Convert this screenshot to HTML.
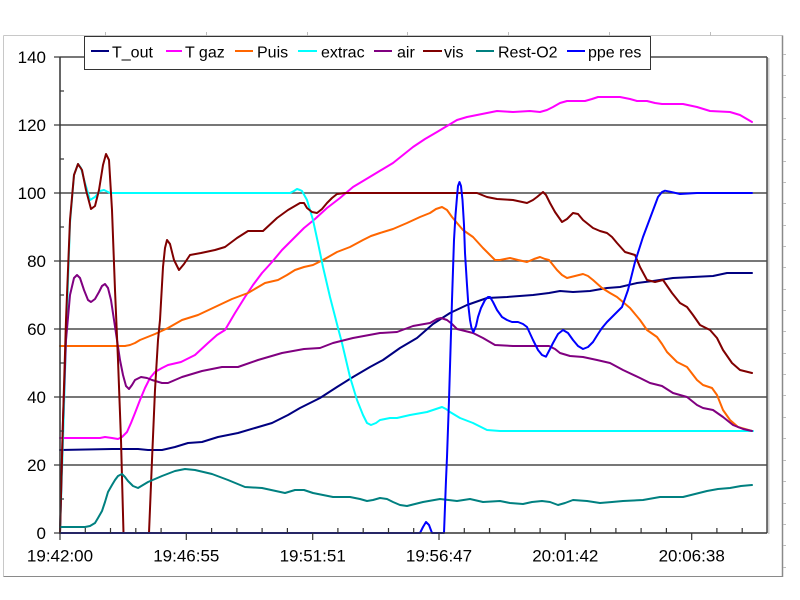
<!DOCTYPE html>
<html>
<head>
<meta charset="utf-8">
<style>
  html,body{margin:0;padding:0;background:#fff;}
  svg{display:block;}
  text{font-family:"Liberation Sans",Arial,sans-serif;fill:#000;}
</style>
</head>
<body>
<svg width="800" height="600" viewBox="0 0 800 600" xmlns="http://www.w3.org/2000/svg">
  <rect x="0" y="0" width="800" height="600" fill="#fff"/>
  <!-- outer frame -->
  <line x1="3.5" y1="35.5" x2="782.5" y2="35.5" stroke="#c8c8c8" stroke-width="1"/>
  <line x1="3.5" y1="35.5" x2="3.5" y2="576.5" stroke="#c8c8c8" stroke-width="1"/>
  <line x1="3.5" y1="576.5" x2="783" y2="576.5" stroke="#8a8a8a" stroke-width="1"/>
  <line x1="782.5" y1="35.5" x2="782.5" y2="577" stroke="#8a8a8a" stroke-width="1.5"/>
  <g stroke="#bdbdbd" stroke-width="1">
    <line x1="105.5" y1="32" x2="105.5" y2="36"/>
    <line x1="206.5" y1="32" x2="206.5" y2="36"/>
    <line x1="307.5" y1="32" x2="307.5" y2="36"/>
    <line x1="407.5" y1="32" x2="407.5" y2="36"/>
    <line x1="508.5" y1="32" x2="508.5" y2="36"/>
    <line x1="609.5" y1="32" x2="609.5" y2="36"/>
    <line x1="710.5" y1="32" x2="710.5" y2="36"/>
    <line x1="783" y1="54.5" x2="786" y2="54.5"/>
    <line x1="783" y1="75.5" x2="786" y2="75.5"/>
    <line x1="783" y1="97.5" x2="786" y2="97.5"/>
    <line x1="783" y1="118.5" x2="786" y2="118.5"/>
    <line x1="783" y1="139.5" x2="786" y2="139.5"/>
    <line x1="783" y1="161.5" x2="786" y2="161.5"/>
    <line x1="783" y1="182.5" x2="786" y2="182.5"/>
    <line x1="783" y1="203.5" x2="786" y2="203.5"/>
    <line x1="783" y1="225.5" x2="786" y2="225.5"/>
    <line x1="783" y1="246.5" x2="786" y2="246.5"/>
    <line x1="783" y1="267.5" x2="786" y2="267.5"/>
    <line x1="783" y1="289.5" x2="786" y2="289.5"/>
    <line x1="783" y1="310.5" x2="786" y2="310.5"/>
    <line x1="783" y1="331.5" x2="786" y2="331.5"/>
    <line x1="783" y1="353.5" x2="786" y2="353.5"/>
    <line x1="783" y1="374.5" x2="786" y2="374.5"/>
    <line x1="783" y1="395.5" x2="786" y2="395.5"/>
    <line x1="783" y1="417.5" x2="786" y2="417.5"/>
    <line x1="783" y1="438.5" x2="786" y2="438.5"/>
    <line x1="783" y1="460.5" x2="786" y2="460.5"/>
    <line x1="783" y1="481.5" x2="786" y2="481.5"/>
    <line x1="783" y1="503.5" x2="786" y2="503.5"/>
    <line x1="783" y1="524.5" x2="786" y2="524.5"/>
    <line x1="783" y1="545.5" x2="786" y2="545.5"/>
    <line x1="783" y1="567.5" x2="786" y2="567.5"/>
  </g>

  <!-- plot area -->
  <rect x="60" y="57" width="707" height="476" fill="#fff"/>
  <line x1="768.5" y1="58" x2="768.5" y2="534" stroke="#d0d0d0" stroke-width="2"/>
  <!-- gridlines -->
  <g stroke="#4a4a4a" stroke-width="1.5">
    <line x1="60" y1="125" x2="767" y2="125"/>
    <line x1="60" y1="193" x2="767" y2="193"/>
    <line x1="60" y1="261" x2="767" y2="261"/>
    <line x1="60" y1="329" x2="767" y2="329"/>
    <line x1="60" y1="397" x2="767" y2="397"/>
    <line x1="60" y1="465" x2="767" y2="465"/>
  </g>
  <!-- top and right border -->
  <line x1="60" y1="57" x2="767" y2="57" stroke="#4a4a4a" stroke-width="1.5"/>
  <line x1="767" y1="57" x2="767" y2="533" stroke="#4a4a4a" stroke-width="1.5"/>

  <!-- series -->
  <g fill="none" stroke-width="2" stroke-linejoin="round" stroke-linecap="round">
    <!-- T_out -->
    <polyline stroke="#000080" points="60,450 112,449 138,449 148,450 162,450 175,447 188,443 202,442 218,437 238,433 255,428 272,423 288,415 300,408 320,398 337,387 353,377 370,367 383,360 400,348 417,338 433,324 450,313 467,305 487,298 507,297 533,295 549,293 560,291 573,292 590,291 607,288 620,287 637,283 653,281 673,278 693,277 713,276 727,273 740,273 752,273"/>
    <!-- T gaz -->
    <polyline stroke="#ff00ff" points="60,438 100,438 105,437 112,438 118,439 122,437 127,432 131,423 135,413 140,400 145,388 150,378 155,372 162,368 168,365 181,362 195,355 208,343 217,335 225,330 235,313 245,297 253,285 262,273 272,262 282,250 293,239 304,228 315,219 327,208 340,198 353,187 363,181 373,175 383,169 393,163 403,155 413,147 425,139 437,132 447,126 457,120 467,117 477,115 487,113 497,111 513,112 530,111 540,112 547,110 553,107 560,103 567,101 573,101 585,101 592,99 598,97 620,97 630,99 637,101 647,101 655,103 662,104 683,104 697,107 710,111 730,112 740,115 752,122"/>
    <!-- Puis -->
    <polyline stroke="#ff6600" points="60,346 125,346 130,345 135,343 140,340 145,338 150,336 155,334 168,328 182,320 198,315 215,307 232,299 248,293 265,283 278,280 287,275 295,270 304,267 313,265 323,260 337,252 350,247 363,240 371,236 380,233 393,229 407,223 420,217 430,213 436,209 442,207 447,210 452,217 457,223 463,230 473,237 483,248 490,255 495,260 500,260 510,258 518,260 527,262 534,259 540,257 545,259 549,260 553,265 557,270 562,275 567,278 575,276 583,274 588,276 593,280 602,288 610,293 617,297 630,308 640,320 647,330 657,337 662,344 667,352 677,362 687,367 697,380 703,385 712,388 717,395 723,410 730,420 738,427 745,429 752,431"/>
    <!-- extrac -->
    <polyline stroke="#00ffff" points="60,533 63,440 66,340 70,223 74,175 78,164 81,168 85,183 90,200 95,197 100,191 104,190 110,193 290,193 294,191 297,189 300,190 302,191 307,200 313,220 318,243 323,267 330,297 338,328 342,343 350,377 357,400 363,415 367,423 371,425 376,423 380,420 390,418 397,418 410,415 427,412 436,409 442,407 446,409 450,412 460,418 473,423 487,430 500,431 753,431"/>
    <!-- air -->
    <polyline stroke="#800080" points="60,533 63,420 66,340 70,295 74,278 77,275 80,278 84,290 88,300 91,302 95,299 99,292 102,286 105,284 108,288 111,300 114,320 117,340 120,360 123,375 126,386 129,389 132,385 135,380 141,377 147,378 152,380 162,383 168,383 175,380 182,377 202,371 222,367 238,367 258,360 282,353 304,349 320,348 333,343 353,338 380,333 397,332 413,326 430,323 437,319 441,318 447,320 452,324 457,329 465,331 473,333 483,338 495,345 513,346 533,346 549,346 555,349 560,353 570,356 583,357 597,360 610,363 623,370 640,378 650,383 662,386 673,393 687,397 697,405 703,408 713,410 723,417 733,425 743,429 752,431"/>
    <!-- vis -->
    <polyline stroke="#800000" points="60,533 63,420 66,320 70,220 74,175 78,164 82,170 86,190 91,209 95,206 99,190 103,165 106,154 109,160 112,210 115,290 118,360 121,440 123.5,533 149,533 152,460 155,390 158,340 160,320 163,267 165,248 167,240 170,244 174,260 179,270 184,264 190,255 201,253 215,250 225,247 237,238 248,231 263,231 277,218 288,210 300,203 304,203 307,208 312,212 317,213 322,209 327,203 332,198 337,194 345,193 477,193 487,197 497,199 513,200 527,203 533,200 537,197 543,192 546,195 550,203 555,212 562,222 567,219 573,213 578,214 583,220 593,228 600,231 607,233 612,237 617,243 625,252 635,255 640,267 647,280 655,282 663,280 672,293 680,303 687,307 693,315 700,325 710,330 717,338 723,350 732,363 740,370 752,373"/>
    <!-- Rest-O2 -->
    <polyline stroke="#008080" points="60,527 85,527 90,526 95,523 98,518 102,511 105,502 108,492 112,485 115,480 118,476 122,474 125,477 128,481 133,486 138,488 143,485 148,482 155,479 162,476 175,471 185,469 195,470 212,474 228,480 245,487 262,488 285,493 295,490 304,490 313,493 333,497 350,497 360,499 367,501 373,500 380,498 387,499 393,502 400,505 407,506 415,504 423,502 440,499 457,501 470,499 483,502 500,501 510,503 523,504 532,502 542,501 550,502 558,505 565,503 573,500 587,501 600,503 612,502 623,501 643,500 660,497 683,497 695,494 707,491 718,489 730,488 741,486 752,485"/>
    <!-- ppe res -->
    <polyline stroke="#0000ff" points="60,533 420,533 423,527 426,522 429,525 432,533 444,533 446,480 447,457 449,400 450.5,350 452,300 453,270 454,240 455.5,215 457,197 458,186 459.5,182 461,186 462.5,200 464,225 465,253 467,285 468.5,307 470,320 471.5,328 473.5,332 476,326 478,317 481,308 485,300 488,297 490,297 493,302 497,310 502,317 507,320 512,322 518,322 523,324 527,327 533,340 538,350 542,355 546,356.7 550,349 553,343 558,334 563,330 568,333 573,340 578,346 583,349 588,347 593,342 598,334 602,328 607,322 612,317 617,312 622,307 628,290 635,262 643,237 652,213 658,197 662,192 665,190.7 670,191.7 680,194 697,193 752,193"/>
  </g>

  <!-- axes -->
  <line x1="60" y1="57" x2="60" y2="533.5" stroke="#333" stroke-width="1.5"/>
  <line x1="60" y1="533" x2="767" y2="533" stroke="#333" stroke-width="1.5"/>
  <!-- y ticks -->
  <g stroke="#333" stroke-width="1.2">
    <line x1="54" y1="57" x2="60" y2="57"/>
    <line x1="54" y1="125" x2="60" y2="125"/>
    <line x1="54" y1="193" x2="60" y2="193"/>
    <line x1="54" y1="261" x2="60" y2="261"/>
    <line x1="54" y1="329" x2="60" y2="329"/>
    <line x1="54" y1="397" x2="60" y2="397"/>
    <line x1="54" y1="465" x2="60" y2="465"/>
    <line x1="54" y1="533" x2="60" y2="533"/>
    <line x1="60" y1="91" x2="64" y2="91"/>
    <line x1="60" y1="159" x2="64" y2="159"/>
    <line x1="60" y1="227" x2="64" y2="227"/>
    <line x1="60" y1="295" x2="64" y2="295"/>
    <line x1="60" y1="363" x2="64" y2="363"/>
    <line x1="60" y1="431" x2="64" y2="431"/>
    <line x1="60" y1="499" x2="64" y2="499"/>
  </g>
  <!-- x ticks -->
  <g stroke="#333" stroke-width="1.2">
    <line x1="60" y1="533" x2="60" y2="540"/>
    <line x1="186.3" y1="533" x2="186.3" y2="540"/>
    <line x1="312.7" y1="533" x2="312.7" y2="540"/>
    <line x1="439" y1="533" x2="439" y2="540"/>
    <line x1="565.3" y1="533" x2="565.3" y2="540"/>
    <line x1="691.7" y1="533" x2="691.7" y2="540"/>
    <line x1="85.3" y1="528" x2="85.3" y2="533"/>
    <line x1="110.5" y1="528" x2="110.5" y2="533"/>
    <line x1="135.8" y1="528" x2="135.8" y2="533"/>
    <line x1="161.1" y1="528" x2="161.1" y2="533"/>
    <line x1="211.6" y1="528" x2="211.6" y2="533"/>
    <line x1="236.9" y1="528" x2="236.9" y2="533"/>
    <line x1="262.1" y1="528" x2="262.1" y2="533"/>
    <line x1="287.4" y1="528" x2="287.4" y2="533"/>
    <line x1="337.9" y1="528" x2="337.9" y2="533"/>
    <line x1="363.2" y1="528" x2="363.2" y2="533"/>
    <line x1="388.5" y1="528" x2="388.5" y2="533"/>
    <line x1="413.7" y1="528" x2="413.7" y2="533"/>
    <line x1="464.3" y1="528" x2="464.3" y2="533"/>
    <line x1="489.5" y1="528" x2="489.5" y2="533"/>
    <line x1="514.8" y1="528" x2="514.8" y2="533"/>
    <line x1="540.1" y1="528" x2="540.1" y2="533"/>
    <line x1="590.6" y1="528" x2="590.6" y2="533"/>
    <line x1="615.9" y1="528" x2="615.9" y2="533"/>
    <line x1="641.1" y1="528" x2="641.1" y2="533"/>
    <line x1="666.4" y1="528" x2="666.4" y2="533"/>
    <line x1="716.9" y1="528" x2="716.9" y2="533"/>
    <line x1="742.2" y1="528" x2="742.2" y2="533"/>
  </g>

  <!-- y labels -->
  <g font-size="17" text-anchor="end">
    <text x="46" y="63">140</text>
    <text x="46" y="131">120</text>
    <text x="46" y="199">100</text>
    <text x="46" y="267">80</text>
    <text x="46" y="335">60</text>
    <text x="46" y="403">40</text>
    <text x="46" y="471">20</text>
    <text x="46" y="539">0</text>
  </g>
  <!-- x labels -->
  <g font-size="17" text-anchor="middle">
    <text x="60" y="561.5">19:42:00</text>
    <text x="186.3" y="561.5">19:46:55</text>
    <text x="312.7" y="561.5">19:51:51</text>
    <text x="439" y="561.5">19:56:47</text>
    <text x="565.3" y="561.5">20:01:42</text>
    <text x="691.7" y="561.5">20:06:38</text>
  </g>

  <!-- legend -->
  <rect x="84.5" y="36.5" width="566" height="33" fill="#fff" stroke="#333" stroke-width="1"/>
  <g stroke-width="2">
    <line x1="91" y1="51" x2="109" y2="51" stroke="#000080"/>
    <line x1="166" y1="51" x2="182" y2="51" stroke="#ff00ff"/>
    <line x1="235" y1="51" x2="253" y2="51" stroke="#ff6600"/>
    <line x1="298" y1="51" x2="317" y2="51" stroke="#00ffff"/>
    <line x1="374" y1="51" x2="392" y2="51" stroke="#800080"/>
    <line x1="423" y1="51" x2="442" y2="51" stroke="#800000"/>
    <line x1="476" y1="51" x2="494" y2="51" stroke="#008080"/>
    <line x1="567" y1="51" x2="585" y2="51" stroke="#0000ff"/>
  </g>
  <g font-size="16">
    <text x="112" y="57.5">T_out</text>
    <text x="185" y="57.5">T gaz</text>
    <text x="257" y="57.5">Puis</text>
    <text x="321" y="57.5">extrac</text>
    <text x="397" y="57.5">air</text>
    <text x="444" y="57.5">vis</text>
    <text x="498" y="57.5">Rest-O2</text>
    <text x="588" y="57.5">ppe res</text>
  </g>
</svg>
</body>
</html>
